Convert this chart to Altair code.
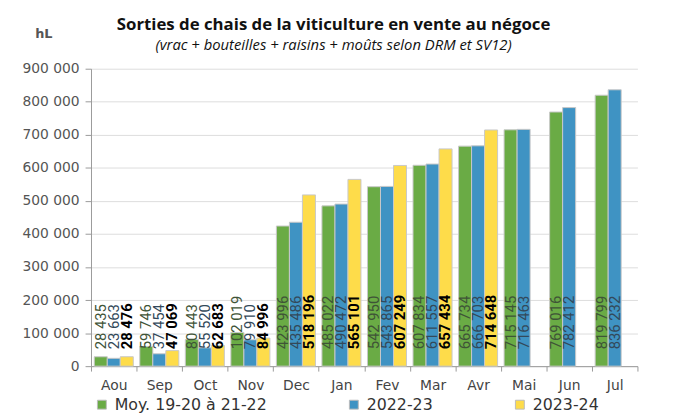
import altair as alt
import pandas as pd

months = ["Aou", "Sep", "Oct", "Nov", "Dec", "Jan", "Fev", "Mar", "Avr", "Mai", "Jun", "Jul"]
series = ["Moy. 19-20 à 21-22", "2022-23", "2023-24"]
moy = [28435, 59746, 80443, 102019, 423996, 485022, 542950, 607834, 665734, 715145, 769016, 819799]
y2223 = [23663, 37454, 55520, 79910, 435486, 490472, 543865, 611557, 666703, 716463, 782412, 836232]
y2324 = [28476, 47069, 62683, 84996, 518196, 565101, 607249, 657434, 714648, None, None, None]
y_ticks = [0, 100000, 200000, 300000, 400000, 500000, 600000, 700000, 800000, 900000]

colors = ["#6aab45", "#3f93c3", "#fedc4a"]
label_colors = ["#3f5437", "#33495a", "#000000"]
label_weights = ["normal", "normal", "bold"]

rows = []
for s, vals in zip(series, [moy, y2223, y2324]):
    for m, v in zip(months, vals):
        if v is not None:
            rows.append({"month": m, "series": s, "value": v, "zero": 0})
df = pd.DataFrame(rows)

x_enc = alt.X(
    "month:N", sort=months,
    scale=alt.Scale(domain=months, paddingInner=0, paddingOuter=0),
    axis=alt.Axis(title=None, tickBand="extent", labelAngle=0, labelFont="DejaVu Sans",
                  labelFontSize=14, labelColor="#444", labelPadding=8, tickSize=5,
                  tickColor="#999", domainColor="#999", grid=False),
)
xo_enc = alt.XOffset("series:N", sort=series,
                     scale=alt.Scale(domain=series, paddingInner=0, paddingOuter=0.25))
y_scale = alt.Scale(domain=[0, 900000], nice=False)
y_axis = alt.Axis(values=y_ticks, format=",.0f", title="hL", titleAngle=0, titleX=-57, titleY=-36,
                  titleAlign="left", titleBaseline="middle", titleFont="DejaVu Sans",
                  titleFontSize=13, titleFontWeight="bold", titleColor="#555",
                  labelFont="DejaVu Sans", labelFontSize=14, labelColor="#555",
                  labelPadding=6, tickSize=6, tickColor="#999", domainColor="#999",
                  gridColor="#dcdcdc", gridWidth=1)

base = alt.Chart(df)

bars = base.mark_bar(stroke="#c8c8c8", strokeWidth=1).encode(
    x=x_enc, xOffset=xo_enc,
    y=alt.Y("value:Q", scale=y_scale, axis=y_axis),
    color=alt.Color("series:N", sort=series,
                    scale=alt.Scale(domain=series, range=colors),
                    legend=alt.Legend(title=None, orient="none", legendX=3, legendY=332,
                                      direction="horizontal", symbolType="square",
                                      symbolSize=81, symbolStrokeColor="#bbb",
                                      symbolStrokeWidth=1, labelFont="DejaVu Sans",
                                      labelFontSize=16, labelColor="#333",
                                      columnPadding=80, labelOffset=5, padding=0)),
)

layers = [bars]
for s, c, w in zip(series, label_colors, label_weights):
    t = base.transform_filter(alt.datum.series == s).mark_text(
        angle=270, align="left", baseline="middle", dx=17, fontSize=15,
        font="Roboto", fontWeight=w, color=c,
    ).encode(
        x=x_enc,
        xOffset=xo_enc,
        y=alt.Y("zero:Q", scale=y_scale, axis=y_axis),
        text=alt.Text("value:Q", format=",.0f"),
    )
    layers.append(t)

chart = alt.layer(*layers).properties(
    width=553, height=301,
    autosize=alt.AutoSizeParams(type="none"),
    padding={"left": 84, "top": 59, "right": 38, "bottom": 48},
    title=alt.TitleParams(
        text="Sorties de chais de la viticulture en vente au négoce",
        subtitle="(vrac + bouteilles + raisins + moûts selon DRM et SV12)",
        font="Open Sans", fontSize=17, fontWeight="bold", color="#111",
        subtitleFont="Open Sans", subtitleFontStyle="italic", subtitleFontSize=15,
        subtitleColor="#111", subtitlePadding=4, anchor="middle", dx=-31, offset=-27,
    ),
).configure(
    locale={"number": {"decimal": ",", "thousands": " ", "grouping": [3], "currency": ["", " €"]}},
).configure_view(stroke=None)

chart.save("out.html", embed_options={"renderer": "svg", "actions": False})
